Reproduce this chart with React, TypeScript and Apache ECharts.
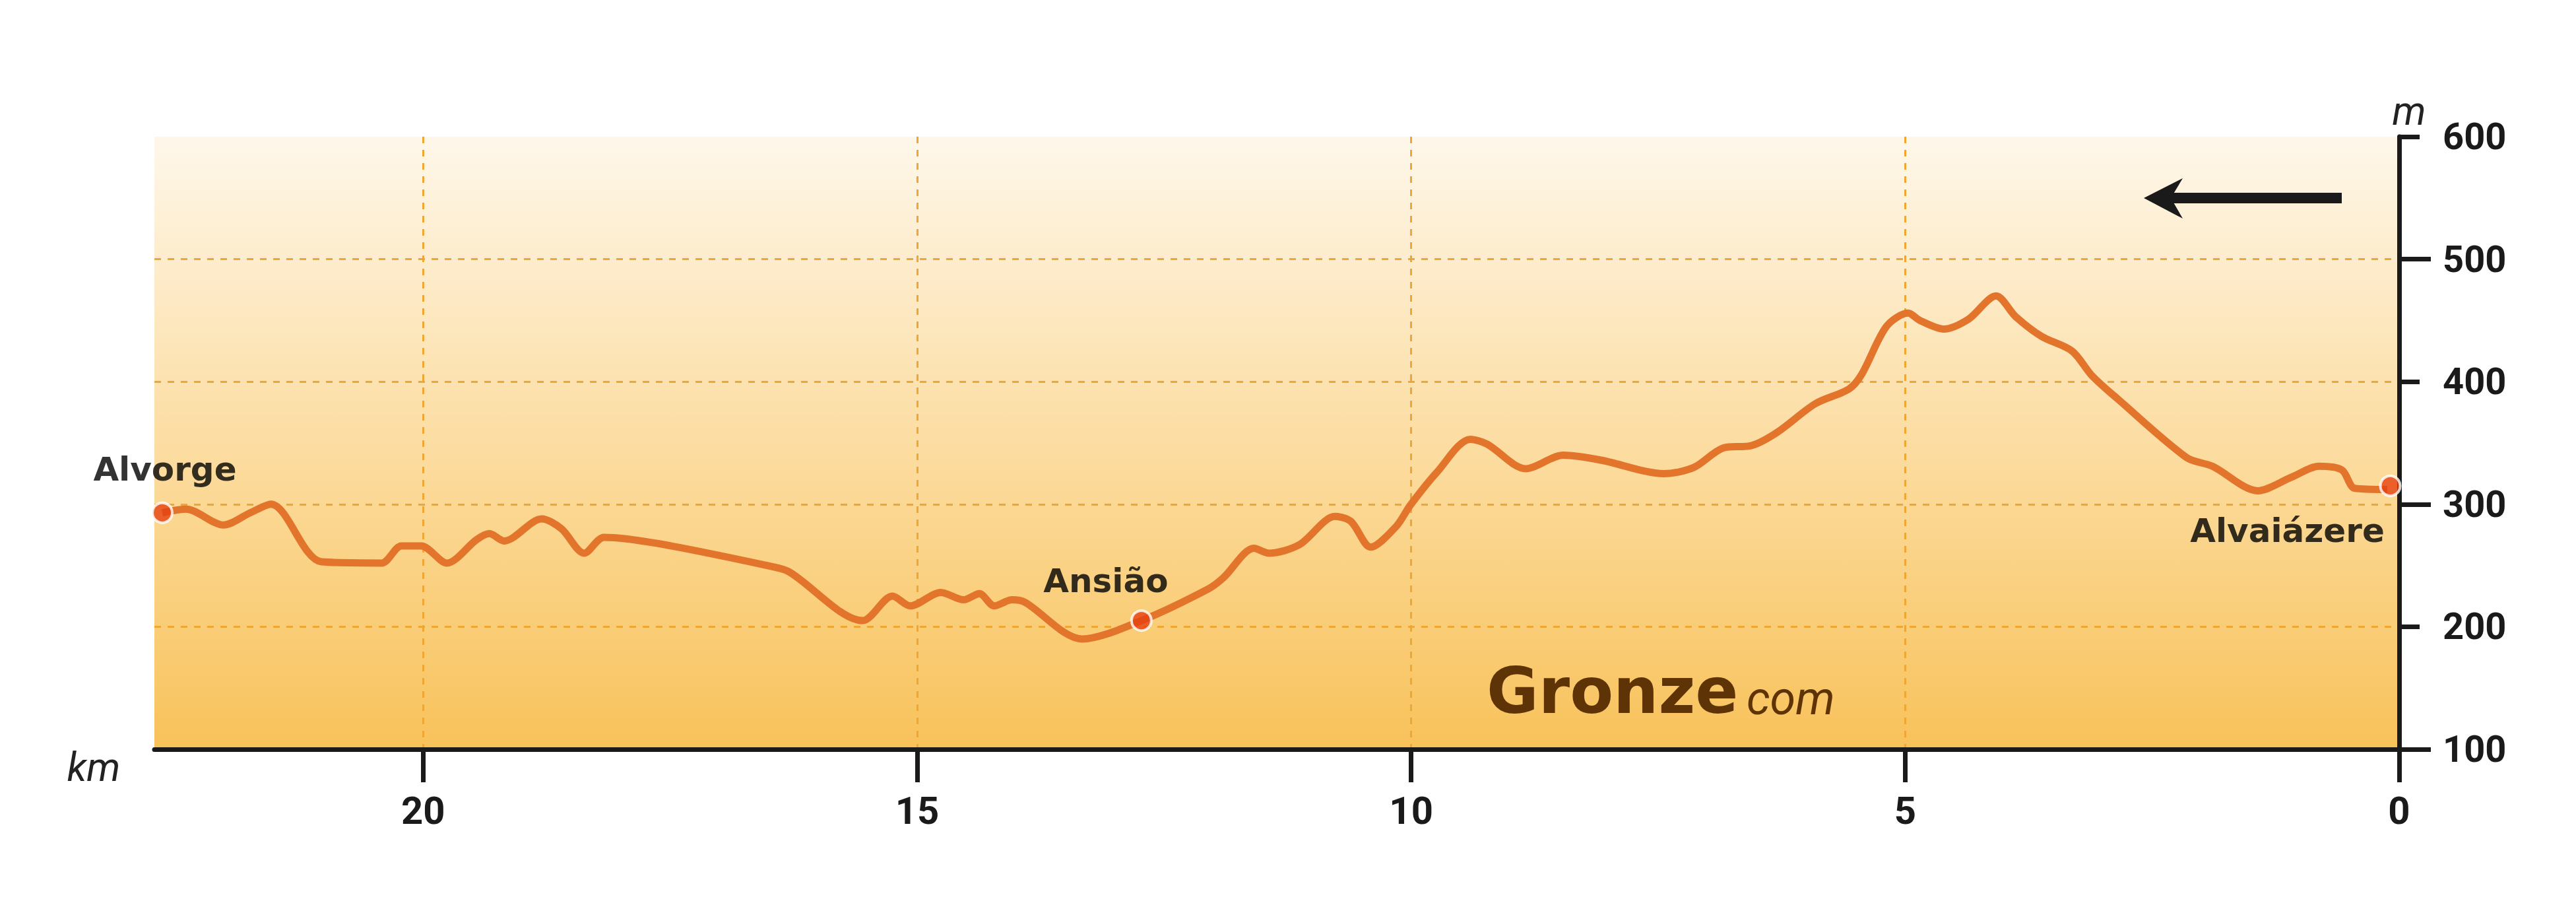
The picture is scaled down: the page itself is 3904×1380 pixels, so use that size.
import React, { useEffect, useRef } from "react";
import * as echarts from "echarts";

// Elevation profile: distance (km, measured from Alvaiázere) and elevation (m)
const distanceKm = [
  0.12, 0.45, 0.58, 0.81, 1.09, 1.43, 1.89, 2.15, 2.85, 3.11, 3.31, 3.62, 3.88, 4.08,
  4.36, 4.61, 4.85, 4.97, 5.19, 5.44, 5.57, 5.91, 6.29, 6.55, 6.84, 7.14, 7.44, 8.08,
  8.46, 8.84, 9.23, 9.4, 9.74, 10.01, 10.15, 10.41, 10.61, 10.77, 11.13, 11.44, 11.59,
  11.9, 12.05, 12.73, 13.33, 13.91, 14.04, 14.22, 14.37, 14.53, 14.76, 15.07, 15.25,
  15.55, 16.3, 16.52, 17.63, 18.17, 18.37, 18.6, 18.8, 19.18, 19.33, 19.46, 19.76,
  20.02, 20.22, 20.42, 21.03, 21.54, 21.75, 22.02, 22.4, 22.64,
];
const elevationM = [
  312, 313, 328, 331, 322, 311, 331, 338, 386, 405, 425, 437, 453, 470,
  451, 443, 450, 456, 445, 406, 394, 382, 359, 348, 346, 330, 325, 336,
  340, 329, 349, 353, 326, 299, 282, 265, 286, 290, 267, 260, 264,
  240, 231, 205, 190, 220, 222, 217, 227, 222, 228, 217, 225,
  205, 245, 250, 268, 273, 260, 280, 288, 270, 276, 271, 252,
  266, 266, 252, 253, 300, 293, 283, 296, 293,
];

const townNames = ["Alvaiázere", "Ansião", "Alvorge"];
const townKm = [0.09, 12.73, 22.64];
const townElevation = [315, 205, 293];

const routeLengthKm = 22.72;
const xTickValues = [0, 5, 10, 15, 20];
const yLongTicks = [100, 300, 500];
const yShortTicks = [200, 400, 600];

const AXIS = "#1a1a1a";
const GRIDLINE = "#f0a633";

export default function App() {
  const ref = useRef<HTMLDivElement>(null);

  useEffect(() => {
    if (!ref.current) return;
    const chart = echarts.init(ref.current, null, { renderer: "svg" });

    const labelOffsets: Record<string, number[]> = {
      "Alvaiázere": [-156, 68],
      "Ansião": [-54, -60],
      "Alvorge": [4, -66],
    };

    const lineData = distanceKm.map((d, i) => [d, elevationM[i]]);
    const townData = townNames.map((n, i) => ({
      name: n,
      value: [townKm[i], townElevation[i]],
      label: { offset: labelOffsets[n] },
    }));

    const splitLineStyle = { color: GRIDLINE, type: [10, 10], width: 3 };
    const xBase = { type: "value", inverse: true, min: 0, max: routeLengthKm, interval: 5 };
    const yBase = { type: "value", position: "right", min: 100, max: 600, interval: 100 };

    chart.setOption({
      animation: false,
      backgroundColor: "#ffffff",
      grid: {
        left: 234,
        right: 268,
        top: 207,
        bottom: 245,
        show: true,
        borderWidth: 0,
        backgroundColor: new echarts.graphic.LinearGradient(0, 0, 0, 1, [
          { offset: 0, color: "#fef7ea" },
          { offset: 0.5, color: "#fcdda2" },
          { offset: 1, color: "#f8c25a" },
        ]),
      },
      xAxis: [
        {
          ...xBase,
          axisLine: { show: false },
          axisTick: { show: false },
          axisLabel: { show: false },
          splitLine: {
            show: true,
            showMinLine: false,
            showMaxLine: false,
            lineStyle: splitLineStyle,
          },
        },
        {
          ...xBase,
          position: "bottom",
          axisLine: { show: true, lineStyle: { color: AXIS, width: 7 } },
          axisTick: {
            show: true,
            customValues: xTickValues,
            length: 50,
            lineStyle: { color: AXIS, width: 7 },
          },
          axisLabel: {
            customValues: xTickValues,
            margin: 64,
            fontSize: 58,
            fontWeight: "bold",
            color: AXIS,
            fontFamily: "Roboto",
          },
          splitLine: { show: false },
        },
      ],
      yAxis: [
        {
          ...yBase,
          axisLine: { show: false },
          axisTick: { show: false },
          axisLabel: { show: false },
          splitLine: {
            show: true,
            showMinLine: false,
            showMaxLine: false,
            lineStyle: splitLineStyle,
          },
        },
        {
          ...yBase,
          axisLine: { show: true, lineStyle: { color: AXIS, width: 7 } },
          axisTick: {
            show: true,
            customValues: yLongTicks,
            length: 48,
            lineStyle: { color: AXIS, width: 7 },
          },
          axisLabel: {
            margin: 66,
            fontSize: 56,
            fontWeight: "bold",
            color: AXIS,
            fontFamily: "Roboto",
          },
          splitLine: { show: false },
        },
        {
          ...yBase,
          axisLine: { show: false },
          axisTick: {
            show: true,
            customValues: yShortTicks,
            length: 31,
            lineStyle: { color: AXIS, width: 7 },
          },
          axisLabel: { show: false },
          splitLine: { show: false },
        },
      ],
      series: [
        {
          type: "line",
          xAxisIndex: 0,
          yAxisIndex: 0,
          data: lineData,
          smooth: 0.3,
          symbol: "none",
          lineStyle: { color: "#e2742b", width: 11 },
          z: 3,
        },
        {
          type: "scatter",
          xAxisIndex: 0,
          yAxisIndex: 0,
          data: townData,
          symbolSize: 30,
          itemStyle: { color: "#e6400f", borderColor: "#ffffff", borderWidth: 4 },
          label: {
            show: true,
            position: "inside",
            formatter: "{b}",
            fontSize: 50,
            fontWeight: "bold",
            fontFamily: "DejaVu Sans",
            color: "#000000",
          },
          z: 4,
        },
      ],
      graphic: [
        {
          type: "text",
          style: {
            text: "km",
            x: 142,
            y: 1162,
            align: "center",
            verticalAlign: "middle",
            font: "italic 60px Roboto",
            fill: "#222222",
          },
        },
        {
          type: "text",
          style: {
            text: "m",
            x: 3651,
            y: 168,
            align: "center",
            verticalAlign: "middle",
            font: "italic 60px Roboto",
            fill: "#222222",
          },
        },
        {
          type: "text",
          z: 5,
          style: {
            text: "Gronze",
            x: 2253,
            y: 1047,
            align: "left",
            verticalAlign: "middle",
            font: "bold 96px 'DejaVu Sans'",
            fill: "#5e3406",
          },
        },
        {
          type: "text",
          z: 5,
          style: {
            text: "com",
            x: 2647,
            y: 1058,
            align: "left",
            verticalAlign: "middle",
            font: "italic 70px Roboto",
            fill: "#5e3406",
          },
        },
        {
          type: "rect",
          z: 5,
          shape: { x: 3288, y: 292, width: 261, height: 16 },
          style: { fill: "#1a1a1a" },
        },
        {
          type: "polygon",
          z: 5,
          shape: {
            points: [
              [3249, 300],
              [3308, 270],
              [3290, 300],
              [3308, 331],
            ],
          },
          style: { fill: "#1a1a1a" },
        },
      ],
    });

    return () => chart.dispose();
  }, []);

  return (
    <div
      ref={ref}
      style={{ position: "fixed", left: 0, top: 0, width: 3904, height: 1380 }}
    />
  );
}
